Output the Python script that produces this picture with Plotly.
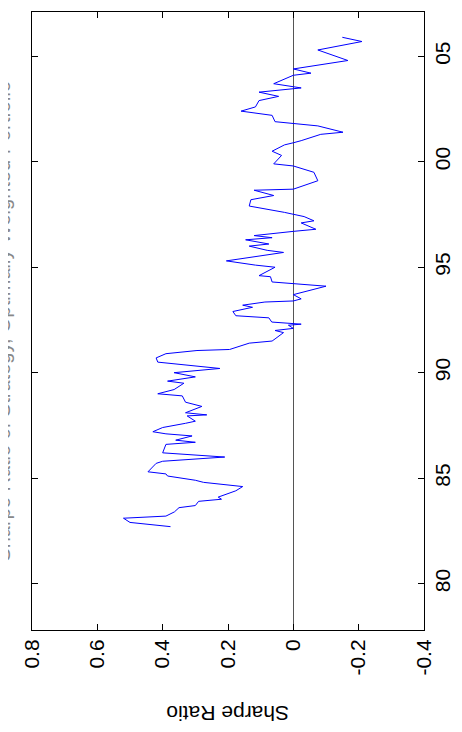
import plotly.graph_objects as go

# Sharpe ratio series (rolling)
years = [1982.7, 1982.9, 1983.1, 1983.2, 1983.4, 1983.6, 1983.7, 1983.9, 1984.0, 1984.1,
         1984.4, 1984.6, 1984.8, 1984.9, 1985.1, 1985.2, 1985.3, 1985.7, 1985.8, 1986.0,
         1986.2, 1986.6, 1986.7, 1986.8, 1987.0, 1987.1, 1987.2, 1987.4, 1987.6, 1987.7,
         1987.95, 1988.0, 1988.1, 1988.4, 1988.6, 1988.9, 1989.0, 1989.2, 1989.5, 1989.6,
         1989.8, 1990.0, 1990.2, 1990.5, 1990.7, 1990.9, 1991.05, 1991.1, 1991.4, 1991.5,
         1991.6, 1991.9, 1992.0, 1992.1, 1992.25, 1992.3, 1992.4, 1992.6, 1992.7, 1992.9,
         1993.1, 1993.2, 1993.35, 1993.4, 1993.5, 1993.7, 1994.1, 1994.2, 1994.3, 1994.55,
         1994.6, 1995.0, 1995.1, 1995.3, 1995.7, 1995.8, 1996.0, 1996.1, 1996.3, 1996.4,
         1996.5, 1996.7, 1996.8, 1997.1, 1997.2, 1997.4, 1997.6, 1997.9, 1998.2, 1998.4,
         1998.65, 1998.7, 1999.1, 1999.5, 1999.7, 1999.8, 1999.9, 2000.3, 2000.5, 2000.8,
         2000.9, 2001.0, 2001.3, 2001.4, 2001.7, 2001.8, 2001.9, 2002.2, 2002.4, 2002.6,
         2002.9, 2003.1, 2003.3, 2003.5, 2003.7, 2004.1, 2004.2, 2004.4, 2004.8, 2005.3,
         2005.7, 2005.9]
sharpe = [0.376, 0.50, 0.52, 0.39, 0.364, 0.35, 0.30, 0.29, 0.22, 0.23,
          0.176, 0.155, 0.275, 0.30, 0.385, 0.39, 0.445, 0.42, 0.40, 0.21,
          0.40, 0.39, 0.30, 0.36, 0.31, 0.39, 0.43, 0.40, 0.33, 0.30,
          0.325, 0.265, 0.33, 0.28, 0.33, 0.34, 0.415, 0.365, 0.335, 0.385,
          0.30, 0.365, 0.225, 0.415, 0.42, 0.39, 0.295, 0.195, 0.135, 0.065,
          0.056, 0.03, 0.056, 0.0, 0.015, -0.024, 0.066, 0.075, 0.176, 0.185,
          0.125, 0.155, 0.087, 0.0, -0.024, 0.0, -0.10, 0.0, 0.065, 0.07,
          0.105, 0.056, 0.116, 0.205, 0.03, 0.08, 0.135, 0.075, 0.146, 0.065,
          0.12, 0.0, -0.069, -0.024, -0.063, -0.033, 0.027, 0.135, 0.13, 0.06,
          0.12, 0.0, -0.075, -0.063, -0.024, 0.0, 0.06, 0.036, 0.065, 0.027,
          0.0, -0.024, -0.084, -0.152, -0.075, 0.0, 0.056, 0.065, 0.16, 0.116,
          0.105, 0.045, 0.105, -0.024, 0.06, 0.0, -0.054, 0.0, -0.167, -0.075,
          -0.21, -0.15]

year_ticks = [1980, 1985, 1990, 1995, 2000, 2005]
year_labels = ["80", "85", "90", "95", "00", "05"]
sharpe_ticks = [0.8, 0.6, 0.4, 0.2, 0, -0.2, -0.4]
sharpe_labels = ["0.8", "0.6", "0.4", "0.2", "0", "-0.2", "-0.4"]

font = dict(family="Liberation Sans, Arial", size=21, color="black")

fig = go.Figure(go.Scatter(x=sharpe, y=years, mode="lines",
                           line=dict(color="blue", width=1), hoverinfo="skip"))

fig.update_layout(
    width=462, height=732,
    margin=dict(l=24, r=46, t=4, b=110, autoexpand=False),
    plot_bgcolor="white", paper_bgcolor="white",
    showlegend=False,
    font=font,
    xaxis=dict(range=[0.8, -0.4], tickvals=sharpe_ticks, ticktext=sharpe_labels,
               tickangle=-90, ticks="inside", ticklen=6, tickcolor="black",
               showline=True, linecolor="black", linewidth=1, mirror="ticks",
               showgrid=False, zeroline=True, zerolinecolor="#555", zerolinewidth=1),
    yaxis=dict(range=[1977.8, 2007.1], side="right", tickvals=year_ticks,
               ticktext=year_labels, tickangle=-90, ticks="inside", ticklen=6,
               tickcolor="black", showline=True, linecolor="black", linewidth=1,
               mirror="ticks", showgrid=False, zeroline=False,
               ticklabelstandoff=0),
    annotations=[
        dict(text="Sharpe Ratio", xref="paper", yref="paper", x=0.5, y=-0.135,
             showarrow=False, textangle=180, font=font, yanchor="middle"),
        dict(text="Sharpe Ratio of Strategy, Optimally Weighted Portfolio",
             xref="paper", yref="paper", x=-0.075, y=0.5, showarrow=False,
             textangle=-90, font=dict(family="Liberation Sans, Arial", size=20,
                                      color="#888"), xanchor="center"),
    ],
)

fig.write_html("out.html")
